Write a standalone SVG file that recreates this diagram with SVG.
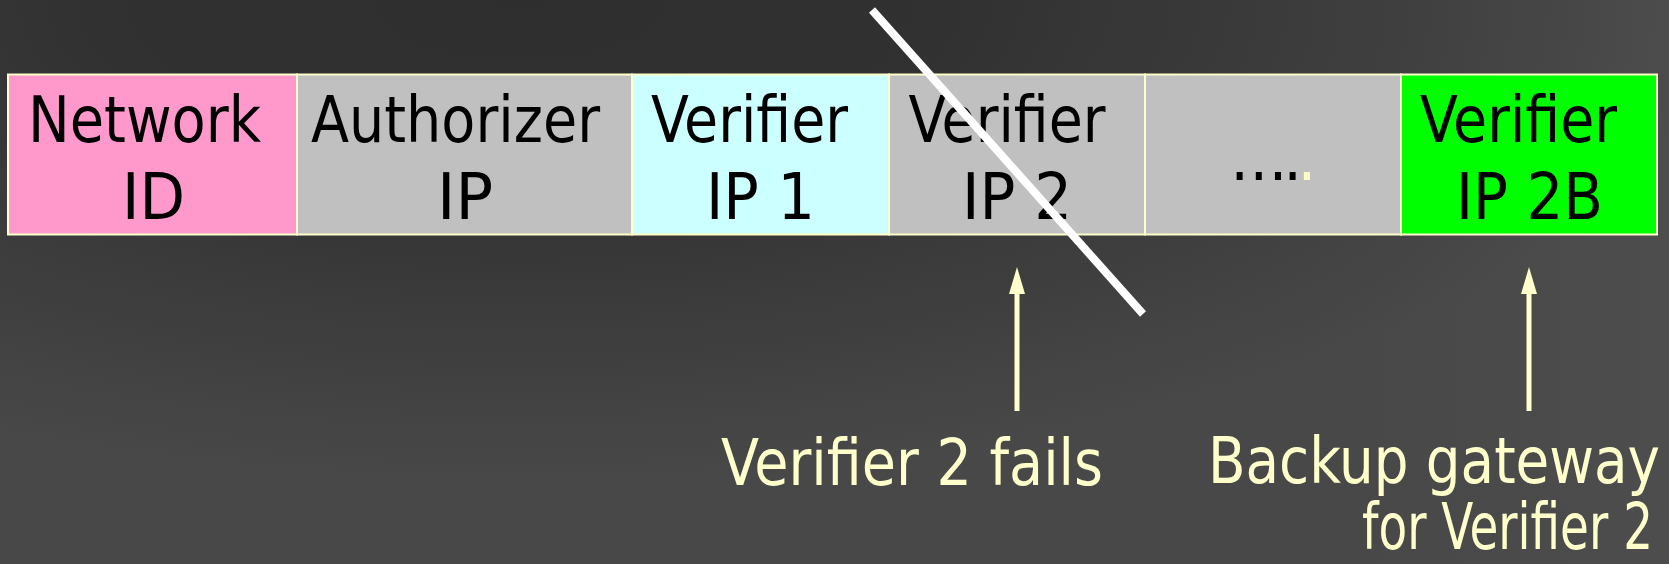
<svg xmlns="http://www.w3.org/2000/svg" width="1669" height="564" viewBox="0 0 1669 564">
  <defs>
    <radialGradient id="bg" gradientUnits="userSpaceOnUse" cx="520" cy="0" r="1200" gradientTransform="translate(520 0) scale(1 0.4) translate(-520 0)">
      <stop offset="0" stop-color="#2e2e2e"/>
      <stop offset="0.35" stop-color="#313131"/>
      <stop offset="1" stop-color="#484848"/>
    </radialGradient>
    <linearGradient id="bgSide" x1="0" y1="0" x2="1669" y2="0" gradientUnits="userSpaceOnUse">
      <stop offset="0" stop-color="#000" stop-opacity="0"/>
      <stop offset="0.7" stop-color="#000" stop-opacity="0"/>
      <stop offset="1" stop-color="#fff" stop-opacity="0.03"/>
    </linearGradient>
    <marker id="head" viewBox="0 0 27 16" refX="0" refY="8" markerWidth="27" markerHeight="16" markerUnits="userSpaceOnUse" orient="auto">
      <path d="M0,0 L27,8 L0,16 Z" fill="#ffffcc"/>
    </marker>
    <style>
      .cell { stroke: #ffffcc; stroke-width: 2; }
      .t { font-family: "DejaVu Sans Condensed", "DejaVu Sans", sans-serif; font-size: 64px; fill: #000; }
      .lbl { font-family: "DejaVu Sans Condensed", "DejaVu Sans", sans-serif; font-size: 64px; fill: #ffffcc; }
      .arrow { stroke: #ffffcc; stroke-width: 5; fill: none; }
    </style>
  </defs>

  <!-- background -->
  <rect x="0" y="0" width="1669" height="564" fill="url(#bg)"/>
  <rect x="0" y="0" width="1669" height="564" fill="url(#bgSide)"/>

  <!-- address record: one cell per field -->
  <g id="network-id">
    <rect class="cell" x="8" y="74.5" width="289" height="160" fill="#ff99cc"/>
    <text class="t" x="28" y="142" textLength="233" lengthAdjust="spacingAndGlyphs">Network</text>
    <text class="t" x="122" y="219" textLength="63" lengthAdjust="spacingAndGlyphs">ID</text>
  </g>
  <g id="authorizer-ip">
    <rect class="cell" x="297" y="74.5" width="335" height="160" fill="#c0c0c0"/>
    <text class="t" x="311" y="142" textLength="289" lengthAdjust="spacingAndGlyphs">Authorizer</text>
    <text class="t" x="437" y="219" textLength="56" lengthAdjust="spacingAndGlyphs">IP</text>
  </g>
  <g id="verifier-ip-1">
    <rect class="cell" x="632" y="74.5" width="257" height="160" fill="#ccffff"/>
    <text class="t" x="651" y="142" textLength="197" lengthAdjust="spacingAndGlyphs">Verifier</text>
    <text class="t" x="706" y="219" textLength="109" lengthAdjust="spacingAndGlyphs">IP 1</text>
  </g>
  <g id="verifier-ip-2">
    <rect class="cell" x="889" y="74.5" width="256" height="160" fill="#c0c0c0"/>
    <text class="t" x="908.5" y="142" textLength="197" lengthAdjust="spacingAndGlyphs">Verifier</text>
    <text class="t" x="962" y="219" textLength="110" lengthAdjust="spacingAndGlyphs">IP 2</text>
  </g>
  <g id="more-fields">
    <rect class="cell" x="1145" y="74.5" width="256" height="160" fill="#c0c0c0"/>
    <text class="t" x="1230" y="180" font-size="54" textLength="86" lengthAdjust="spacing">….<tspan fill="#ffffcc">.</tspan></text>
  </g>
  <g id="verifier-ip-2b">
    <rect class="cell" x="1401" y="74.5" width="256" height="160" fill="#00ff00"/>
    <text class="t" x="1420" y="142" textLength="197" lengthAdjust="spacingAndGlyphs">Verifier</text>
    <text class="t" x="1456" y="219" textLength="147" lengthAdjust="spacingAndGlyphs">IP 2B</text>
  </g>

  <!-- strike-through over the failed verifier -->
  <g id="strike">
    <line x1="872" y1="10" x2="1143" y2="314" stroke="#ffffff" stroke-width="8"/>
  </g>

  <!-- pointers from labels up to fields -->
  <g id="connectors">
    <line class="arrow" x1="1017" y1="411" x2="1017" y2="294" marker-end="url(#head)"/>
    <line class="arrow" x1="1529" y1="411" x2="1529" y2="294" marker-end="url(#head)"/>
  </g>

  <g id="label-fails">
    <text class="lbl" x="721" y="485" textLength="382" lengthAdjust="spacingAndGlyphs">Verifier 2 fails</text>
  </g>
  <g id="label-backup">
    <text class="lbl" x="1208" y="483" textLength="452" lengthAdjust="spacingAndGlyphs">Backup gateway</text>
    <text class="lbl" x="1362" y="549" textLength="291" lengthAdjust="spacingAndGlyphs">for Verifier 2</text>
  </g>
</svg>
